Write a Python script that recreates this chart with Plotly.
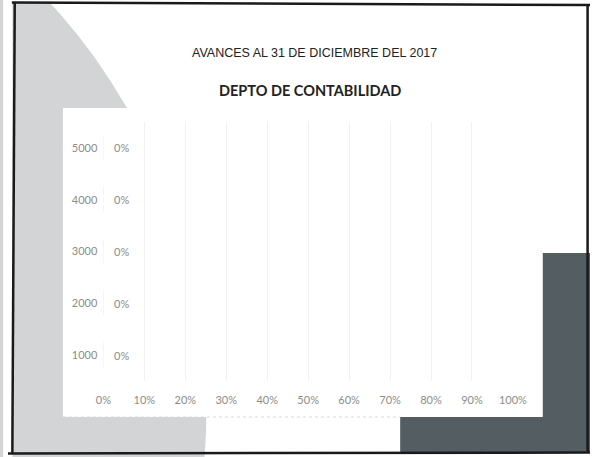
import plotly.graph_objects as go

# ---- chart data -------------------------------------------------------------
categories = [1000, 2000, 3000, 4000, 5000]
avance_pct = [0, 0, 0, 0, 0]          # progress per row, in percent
x_ticks = [0, 10, 20, 30, 40, 50, 60, 70, 80, 90, 100]

title_main = "AVANCES AL 31 DE DICIEMBRE DEL 2017"
title_sub = "DEPTO DE CONTABILIDAD"

# ---- canvas helpers -----------------------------------------------------------
W, H = 604, 457


def px(x):
    return x / W


def py(y):
    return 1 - y / H


label_font = dict(family="Lato, 'Open Sans', sans-serif", size=11, color="#8c8c8c")

fig = go.Figure()

fig.add_trace(go.Bar(
    x=avance_pct,
    y=categories,
    orientation="h",
    width=500,
    marker=dict(color="#4472c4"),
    hoverinfo="skip",
    showlegend=False,
))

# data labels next to each bar end
for cat, val in zip(categories, avance_pct):
    fig.add_annotation(
        x=val, y=cat, xref="x", yref="y",
        text=f"{val}%", showarrow=False,
        xanchor="left", xshift=9,
        font=label_font,
    )

# ---- slide decoration ---------------------------------------------------------
shapes = []
# large light-grey disc on the left
cx, cy, r = -381, 408, 587
shapes.append(dict(type="circle", xref="paper", yref="paper",
                   x0=px(cx - r), x1=px(cx + r), y0=py(cy + r), y1=py(cy - r),
                   fillcolor="#d3d4d5", line=dict(width=0), layer="below"))
# dark block in the lower right
shapes.append(dict(type="rect", xref="paper", yref="paper",
                   x0=px(407), x1=px(604), y0=py(453), y1=py(253),
                   fillcolor="#535d62", line=dict(width=0), layer="below"))
# white chart panel
shapes.append(dict(type="rect", xref="paper", yref="paper",
                   x0=px(57), x1=px(555), y0=py(417), y1=py(108),
                   fillcolor="#ffffff", line=dict(width=0), layer="below"))
# faint shadow under the panel
shapes.append(dict(type="line", xref="paper", yref="paper",
                   x0=px(57), x1=px(407), y0=py(417), y1=py(417),
                   line=dict(color="#d8d8d8", width=1, dash="dot"), layer="below"))
# white margin outside the frame
shapes.append(dict(type="rect", xref="paper", yref="paper",
                   x0=px(-5), x1=px(4.5), y0=py(460), y1=py(-5),
                   fillcolor="#ffffff", line=dict(width=0), layer="below"))
shapes.append(dict(type="rect", xref="paper", yref="paper",
                   x0=px(0), x1=px(604), y0=py(2), y1=py(-5),
                   fillcolor="#ffffff", line=dict(width=0), layer="below"))
# black frame
frame = dict(color="#1a1a1a", width=2.5)
shapes.append(dict(type="line", xref="paper", yref="paper",
                   x0=px(4), x1=px(604), y0=py(2.5), y1=py(5), line=frame, layer="above"))
shapes.append(dict(type="line", xref="paper", yref="paper",
                   x0=px(7), x1=px(4.5), y0=py(2), y1=py(453), line=frame, layer="above"))
shapes.append(dict(type="line", xref="paper", yref="paper",
                   x0=px(0), x1=px(604), y0=py(453.5), y1=py(452.5), line=frame, layer="above"))
shapes.append(dict(type="line", xref="paper", yref="paper",
                   x0=px(601.5), x1=px(601.5), y0=py(4), y1=py(453), line=frame, layer="above"))

# ---- titles -------------------------------------------------------------------
fig.add_annotation(xref="paper", yref="paper", x=px(318), y=py(53),
                   text=title_main, showarrow=False, xanchor="center", yanchor="middle",
                   font=dict(family="'Liberation Sans', Arial, sans-serif", size=12.5, color="#222222"))
fig.add_annotation(xref="paper", yref="paper", x=px(313), y=py(90),
                   text=f"<b>{title_sub}</b>", showarrow=False, xanchor="center", yanchor="middle",
                   font=dict(family="Lato, 'Open Sans', sans-serif", size=14.5, color="#222222"))

fig.update_layout(
    width=W, height=H, autosize=False,
    margin=dict(l=0, r=0, t=0, b=0, pad=0),
    paper_bgcolor="#ffffff",
    plot_bgcolor="rgba(0,0,0,0)",
    shapes=shapes,
    xaxis=dict(
        domain=[px(99), px(524)],
        range=[0, 100],
        tickmode="array", tickvals=x_ticks, ticktext=[f"{t}%" for t in x_ticks],
        showgrid=True, gridcolor="#f1f1f1", gridwidth=1,
        zeroline=False, showline=False, ticks="",
        tickfont=label_font, ticklabelstandoff=11,
        fixedrange=True,
    ),
    yaxis=dict(
        domain=[py(381), py(122)],
        range=[500, 5500],
        tickmode="array", tickvals=categories, ticktext=[str(c) for c in categories],
        showgrid=False, zeroline=False, showline=False, ticks="",
        tickfont=label_font, ticklabelstandoff=5,
        fixedrange=True,
    ),
)

# keep the page flush with the window and redraw at the full canvas size
page_js = (
    "document.documentElement.style.margin='0';"
    "document.documentElement.style.overflow='hidden';"
    "document.body.style.margin='0';"
    "document.body.style.overflow='hidden';"
    "var gd=document.getElementById('{plot_id}');"
    "gd.style.width='%dpx';gd.style.height='%dpx';"
    "Plotly.relayout(gd,{width:%d,height:%d});" % (W, H, W, H)
)

fig.write_html("out.html", config={"responsive": False, "displayModeBar": False},
               post_script=page_js)
